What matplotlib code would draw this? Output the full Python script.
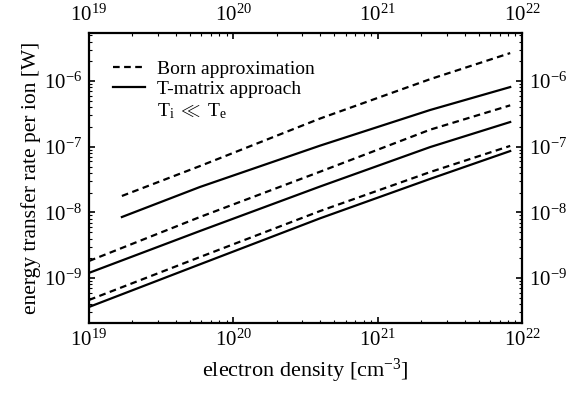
import matplotlib
matplotlib.use('Agg')
from matplotlib import pyplot as plt
from matplotlib.lines import Line2D
from matplotlib.ticker import NullFormatter, FixedLocator

plt.rcParams['font.family'] = ['Liberation Serif', 'DejaVu Serif']
plt.rcParams['mathtext.fontset'] = 'custom'
plt.rcParams['mathtext.rm'] = 'Liberation Serif'
plt.rcParams['mathtext.it'] = 'Liberation Serif:italic'

# electron density [cm^-3]
dens_high = [1.69e19, 5.87e19, 3.99e20, 2.31e21, 8.28e21]
dens_full = [1.0e19, 5.87e19, 3.99e20, 2.31e21, 8.28e21]

# energy transfer rate per ion [W]
born_top = [1.78e-8, 5.08e-8, 2.69e-7, 1.07e-6, 2.67e-6]
tmat_top = [8.51e-9, 2.44e-8, 1.04e-7, 3.63e-7, 8.11e-7]
born_mid = [1.82e-9, 8.51e-9, 4.17e-8, 1.82e-7, 4.27e-7]
tmat_mid = [1.20e-9, 5.21e-9, 2.48e-8, 9.89e-8, 2.38e-7]
born_low = [4.64e-10, 2.09e-9, 1.05e-8, 4.12e-8, 1.03e-7]
tmat_low = [3.63e-10, 1.62e-9, 8.13e-9, 3.24e-8, 8.6e-8]

x_ticks = [1e19, 1e20, 1e21, 1e22]
y_ticks = [1e-9, 1e-8, 1e-7, 1e-6]

fig = plt.figure(figsize=(5.79, 3.97), dpi=100)
ax = fig.add_axes([0.1537, 0.1864, 0.7479, 0.7305])

lw = 1.6
dash = (3, 2)
for born, tmat, dens in [(born_top, tmat_top, dens_high),
                         (born_mid, tmat_mid, dens_full),
                         (born_low, tmat_low, dens_full)]:
    ax.plot(dens, born, color='black', lw=lw, dashes=dash)
    ax.plot(dens, tmat, color='black', lw=lw)

ax.set_xscale('log')
ax.set_yscale('log')
ax.set_xlim(1e19, 1e22)
ax.set_ylim(2.07e-10, 5.4e-6)
ax.xaxis.set_major_locator(FixedLocator(x_ticks))
ax.yaxis.set_major_locator(FixedLocator(y_ticks))
ax.xaxis.set_minor_formatter(NullFormatter())
ax.yaxis.set_minor_formatter(NullFormatter())

ax.tick_params(which='both', direction='in', top=True, right=True,
               labeltop=True, labelright=True, labelsize=15, pad=5)
ax.tick_params(which='major', length=4, width=1.2)
ax.tick_params(which='minor', length=2, width=0.8)
for s in ax.spines.values():
    s.set_linewidth(1.6)

ax.set_xlabel('electron density [cm$^{-3}$]', fontsize=16, labelpad=4)
ax.set_ylabel('energy transfer rate per ion [W]', fontsize=15.5, labelpad=2)

handles = [Line2D([], [], color='black', lw=lw, dashes=dash),
           Line2D([], [], color='black', lw=lw),
           Line2D([], [], color='none')]
labels = ['Born approximation', 'T-matrix approach', r'$\mathrm{T_i\ \ll\ T_e}$']
ax.legend(handles, labels, loc='upper left', frameon=False, fontsize=14,
          handlelength=1.65, handletextpad=0.6, labelspacing=0.15,
          borderpad=0, borderaxespad=0, bbox_to_anchor=(0.055, 0.907))

fig.savefig('out.png', dpi=100)
